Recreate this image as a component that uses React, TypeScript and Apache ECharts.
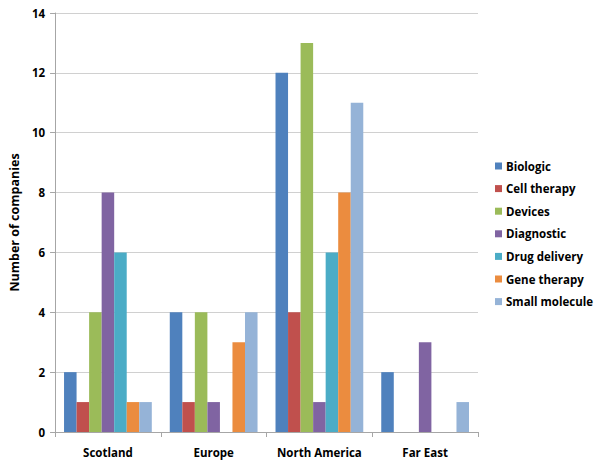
import React, { useEffect, useRef } from "react";
import * as echarts from "echarts";

const categories = ["Scotland", "Europe", "North America", "Far East"];
const seriesNames = ["Biologic", "Cell therapy", "Devices", "Diagnostic", "Drug delivery", "Gene therapy", "Small molecule"];
const biologic = [2, 4, 12, 2];
const cellTherapy = [1, 1, 4, 0];
const devices = [4, 4, 13, 0];
const diagnostic = [8, 1, 1, 3];
const drugDelivery = [6, 0, 6, 0];
const geneTherapy = [1, 3, 8, 0];
const smallMolecule = [1, 4, 11, 1];
const colors = ["#4F81BD", "#C0504D", "#9BBB59", "#8064A2", "#4BACC6", "#EB8C3F", "#95B3D7"];
const yTicks = [0, 2, 4, 6, 8, 10, 12, 14];

const allData = [biologic, cellTherapy, devices, diagnostic, drugDelivery, geneTherapy, smallMolecule];

export default function App() {
  const ref = useRef<HTMLDivElement>(null);
  useEffect(() => {
    const chart = echarts.init(ref.current!, null, { renderer: "svg" });
    const font = "'Open Sans', 'Liberation Sans', sans-serif";
    chart.setOption({
      animation: false,
      textStyle: { fontFamily: font },
      grid: { left: 54, right: 126, top: 13, bottom: 34, containLabel: false },
      legend: {
        orient: "vertical",
        left: 490,
        top: 155,
        itemWidth: 7,
        itemHeight: 7,
        itemGap: 10.6,
        icon: "rect",
        textStyle: { fontFamily: font, fontWeight: "bold", fontSize: 11.5, color: "#000", padding: [0, 0, 0, -1] },
        data: seriesNames,
      },
      xAxis: {
        type: "category",
        data: categories,
        axisLine: { lineStyle: { color: "#A6A6A6" } },
        axisTick: { show: true, alignWithLabel: false, length: 5, lineStyle: { color: "#A6A6A6" } },
        axisLabel: { interval: 0, fontFamily: font, fontWeight: "bold", fontSize: 11.5, color: "#000", margin: 14 },
      },
      yAxis: {
        type: "value",
        min: yTicks[0],
        max: yTicks[yTicks.length - 1],
        interval: 2,
        name: "Number of companies",
        nameLocation: "middle",
        nameGap: 34,
        nameTextStyle: { fontFamily: font, fontWeight: "bold", fontSize: 12.5, color: "#000" },
        axisLine: { show: true, lineStyle: { color: "#A6A6A6" } },
        axisTick: { show: true, length: 5, lineStyle: { color: "#A6A6A6" } },
        axisLabel: { fontFamily: font, fontWeight: "bold", fontSize: 11.5, color: "#000", margin: 10 },
        splitLine: { lineStyle: { color: "#D0D0D0" } },
      },
      series: seriesNames.map((name, i) => ({
        name,
        type: "bar",
        data: allData[i],
        barGap: "0%",
        barCategoryGap: "17%",
        itemStyle: { color: colors[i] },
      })),
    });
    return () => chart.dispose();
  }, []);
  return <div ref={ref} style={{ width: 604, height: 466, position: "absolute", left: 0, top: 0 }} />;
}
